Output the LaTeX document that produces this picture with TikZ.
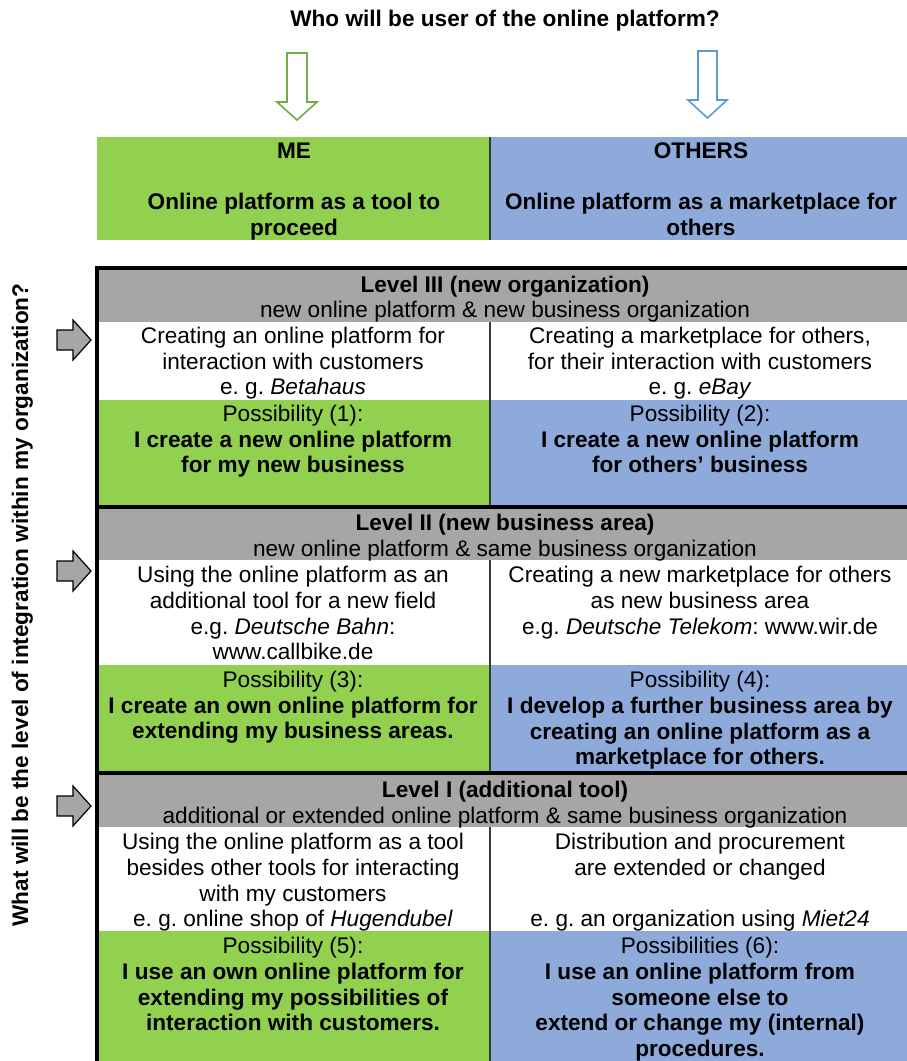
\documentclass[tikz,border=0pt]{standalone}
\usepackage{fontspec}
\setmainfont{Liberation Sans}
\frenchspacing
\definecolor{mygreen}{HTML}{92D050}
\definecolor{myblue}{HTML}{8EAADB}
\definecolor{mygray}{HTML}{A6A6A6}
\definecolor{arrgreen}{HTML}{70AD47}
\definecolor{arrblue}{HTML}{5B9BD5}
\definecolor{divcol}{HTML}{3A3A3A}
\begin{document}
\begin{tikzpicture}[x=1pt,y=-1pt,
  every node/.style={inner sep=0pt},
  txt/.style={align=center,font=\fontsize{22.6}{25.7}\selectfont},
  btxt/.style={align=center,font=\fontsize{22.6}{25.7}\selectfont\bfseries},
  divider/.style={draw=divcol,line width=1.4pt},
  thickline/.style={draw=black,line width=4pt},
  grayarrow/.style={fill=mygray,draw=black,line width=1.2pt,line join=miter},
  hollowarrow/.style={fill=white,line width=1.6pt,line join=miter}]
\useasboundingbox (0,0) rectangle (906,1061);
\fill[white] (0,0) rectangle (906,1061);

% title
\node[btxt] (title) at (505,21) {\strut Who will be user of the online platform?};

% hollow arrows
\draw[hollowarrow,draw=arrgreen] (287,53) -- (307,53) -- (307,102) -- (317,102) -- (297,120) -- (277,102) -- (287,102) -- cycle;
\draw[hollowarrow,draw=arrblue] (698,51) -- (717,51) -- (717,100) -- (727,100) -- (707.5,118) -- (688,100) -- (698,100) -- cycle;

% header row
\fill[mygreen] (97,137) rectangle (490,240);
\fill[myblue] (490,137) rectangle (916,240);
\draw[divider] (490,137) -- (490,240);
\node[btxt] (me) at (294,192) {\strut ME\\ \strut\\ Online platform as a tool to\\ proceed\strut};
\node[btxt] (others) at (701,192) {\strut OTHERS\\ \strut\\ Online platform as a marketplace for\\ others\strut};

% level fills
\fill[mygray] (97,268) rectangle (916,322);
\fill[mygreen] (97,400) rectangle (490,507);
\fill[myblue] (490,400) rectangle (916,507);
\fill[mygray] (97,507) rectangle (916,560);
\fill[mygreen] (97,665) rectangle (490,773);
\fill[myblue] (490,665) rectangle (916,773);
\fill[mygray] (97,773) rectangle (916,827);
\fill[mygreen] (97,931) rectangle (490,1070);
\fill[myblue] (490,931) rectangle (916,1070);

% dividers
\draw[divider] (490,322) -- (490,507);
\draw[divider] (490,560) -- (490,773);
\draw[divider] (490,827) -- (490,1070);

% thick frame
\draw[thickline] (97,1075) -- (97,268) -- (920,268);
\draw[thickline] (95,507) -- (920,507);
\draw[thickline] (95,773) -- (920,773);

% Level III
\node[txt] (h3) at (505,300) {\strut\textbf{Level III (new organization)}\\ new online platform \& new business organization\strut};
\node[txt] (w3l) at (293,364) {\strut Creating an online platform for\\ interaction with customers\\ e. g. \textit{Betahaus}\strut};
\node[txt] (w3r) at (700,364) {\strut Creating a marketplace for others,\\ for their interaction with customers\\ e. g. \textit{eBay}\strut};
\node[txt] (p1) at (293,442) {\strut Possibility (1):\\ \textbf{I create a new online platform}\\ \textbf{for my new business}\strut};
\node[txt] (p2) at (700,442) {\strut Possibility (2):\\ \textbf{I create a new online platform}\\ \textbf{for others’ business}\strut};

% Level II
\node[txt] (h2) at (505,538.5) {\strut\textbf{Level II (new business area)}\\ new online platform \& same business organization\strut};
\node[txt] (w2l) at (293,616) {\strut Using the online platform as an\\ additional tool for a new field\\ e.g. \textit{Deutsche Bahn}:\\ www.callbike.de\strut};
\node[txt] (w2r) at (700,603.5) {\strut Creating a new marketplace for others\\ as new business area\\ e.g. \textit{Deutsche Telekom}: www.wir.de\strut};
\node[txt] (p3) at (293,708) {\strut Possibility (3):\\ \textbf{I create an own online platform for}\\ \textbf{extending my business areas.}\strut};
\node[txt] (p4) at (700,721) {\strut Possibility (4):\\ \textbf{I develop a further business area by}\\ \textbf{creating an online platform as a}\\ \textbf{marketplace for others.}\strut};

% Level I
\node[txt] (h1) at (505,805.5) {\strut\textbf{Level I (additional tool)}\\ additional or extended online platform \& same business organization\strut};
\node[txt] (w1l) at (293,883) {\strut Using the online platform as a tool\\ besides other tools for interacting\\ with my customers\\ e. g. online shop of \textit{Hugendubel}\strut};
\node[txt] (w1r) at (700,883) {\strut Distribution and procurement\\ are extended or changed\\ \strut\\ e. g. an organization using \textit{Miet24}\strut};
\node[txt] (p5) at (293,987) {\strut Possibility (5):\\ \textbf{I use an own online platform for}\\ \textbf{extending my possibilities of}\\ \textbf{interaction with customers.}\strut};
\node[txt] (p6) at (700,1000) {\strut Possibilities (6):\\ \textbf{I use an online platform from}\\ \textbf{someone else to}\\ \textbf{extend or change my (internal)}\\ \textbf{procedures.}\strut};

% vertical question
\node[btxt,rotate=90] (vq) at (23,605) {\strut What will be the level of integration within my organization?};

% gray arrows
\foreach \c in {340,571,806}{
  \draw[grayarrow] (57,\c-10) -- (73,\c-10) -- (73,\c-20) -- (91,\c) -- (73,\c+20) -- (73,\c+10) -- (57,\c+10) -- cycle;
}
\end{tikzpicture}
\end{document}
